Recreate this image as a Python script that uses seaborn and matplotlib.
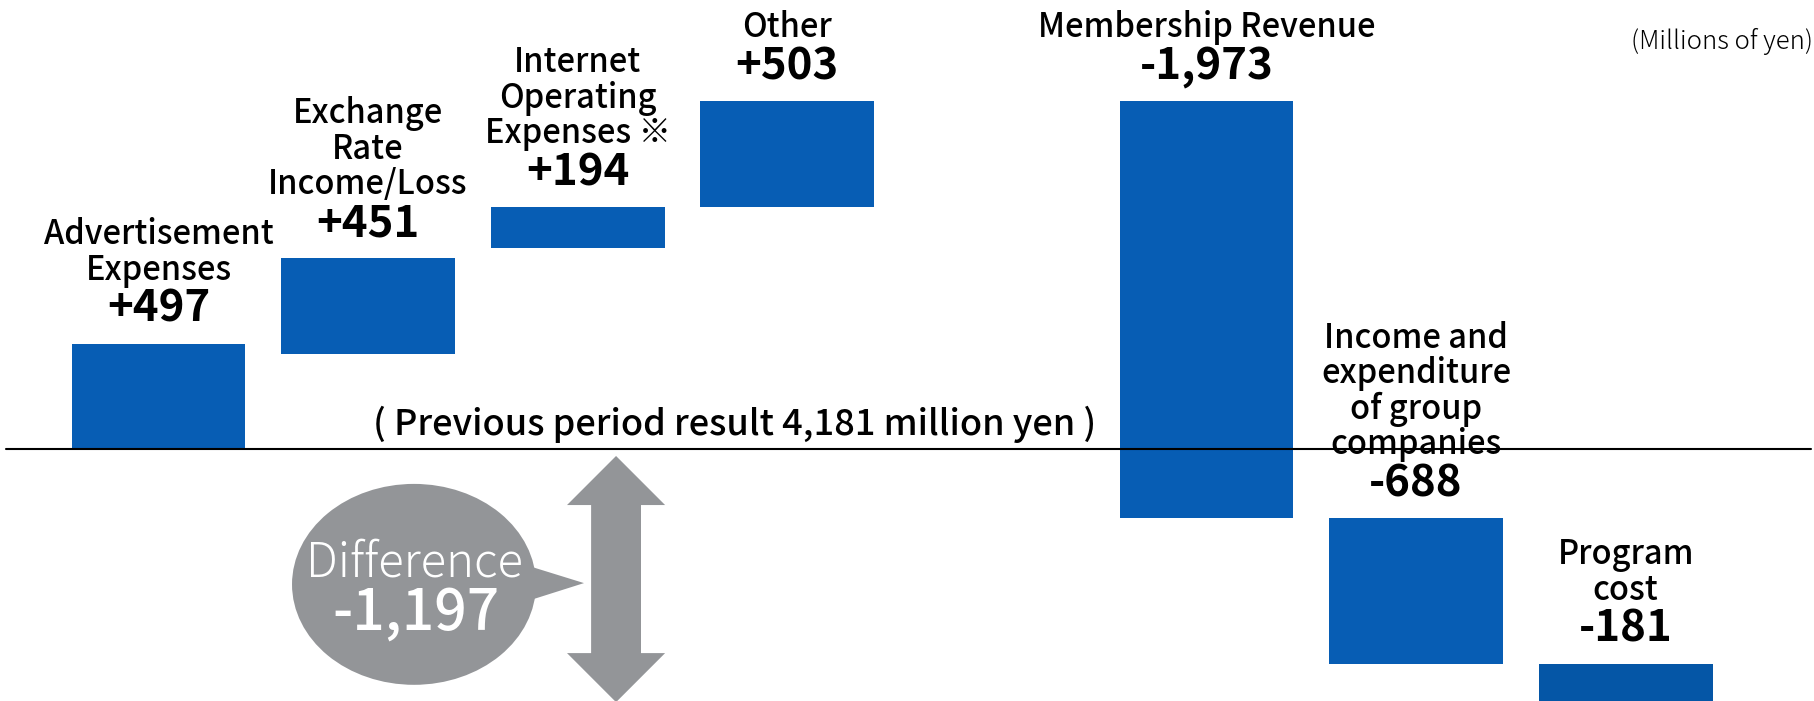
import numpy as np
import pandas as pd
import matplotlib
matplotlib.use("Agg")
import matplotlib.pyplot as plt
from matplotlib.patches import Ellipse, Polygon
import seaborn as sns

# ---- data ----
categories = ["Advertisement Expenses", "Exchange Rate Income/Loss",
              "Internet Operating Expenses ※", "Other", "Membership Revenue",
              "Income and expenditure of group companies", "Program cost"]
label_lines = [["Advertisement", "Expenses"],
               ["Exchange", "Rate", "Income/Loss"],
               ["Internet", "Operating", "Expenses ※"],
               ["Other"],
               ["Membership Revenue"],
               ["Income and", "expenditure", "of group", "companies"],
               ["Program", "cost"]]
deltas = [497, 451, 194, 503, -1973, -688, -181]
# bar bottoms as drawn in the source picture (waterfall steps)
bar_bottoms = [0, 450, 948, 1142, 1645, -328, -1016]
value_labels = ["+497", "+451", "+194", "+503", "-1,973", "-688", "-181"]
prev_result = 4181
unit_label = "(Millions of yen)"

# ---- layout ----
sns.set_theme(style="white")
plt.rcParams['font.family'] = ['Noto Sans CJK JP', 'DejaVu Sans']

BLUE = "#075DB4"
BLUE_LAST = "#0556A6"
GRAY = "#939598"

slots = [i if i < 4 else i + 1 for i in range(len(deltas))]
total = int(np.sum(deltas))

df = pd.DataFrame({"slot": slots, "delta": deltas, "start": bar_bottoms})

fig = plt.figure(figsize=(18.14, 7.01), dpi=100)
ax = fig.add_axes([0, 0, 1, 1])

sns.barplot(data=df, x="slot", y="delta", native_scale=True, orient="x",
            width=0.83, bottom=df["start"].values, color=BLUE,
            linewidth=0, ax=ax)
for i, p in enumerate(ax.patches):
    p.set_facecolor(BLUE_LAST if i == len(deltas) - 1 else BLUE)
    p.set_edgecolor("none")

# axis scaling: pixel mapping
px_per_slot = 209.6
x0_px = 158.5
ax.set_xlim((0 - x0_px) / px_per_slot, (1814 - x0_px) / px_per_slot)
py = 0.2115
ax.set_ylim(-(701 - 449) / py, 449 / py)
ax.axis("off")

# baseline
ax.axhline(0, xmin=6 / 1814, xmax=1811 / 1814, color="black", lw=1.5, zorder=10)

# labels above bars
for s, d, st, lines, vl in zip(slots, deltas, bar_bottoms, label_lines, value_labels):
    top = max(st, st + d)
    ax.annotate(vl, (s, top), xytext=(0, 22), textcoords="offset pixels",
                ha="center", va="baseline", fontsize=31.5, fontweight="bold",
                color="black", zorder=5)
    for k, line in enumerate(reversed(lines)):
        ax.annotate(line, (s, top), xytext=(0, 64 + 35.5 * k), textcoords="offset pixels",
                    ha="center", va="baseline", fontsize=23.5, fontweight="medium",
                    color="black", zorder=5)

# previous period text
ax.text(2.75, 66, f"( Previous period result {prev_result:,} million yen )",
        ha="center", va="baseline", fontsize=26, fontweight="medium", color="black")

# unit label
ax.text(0.9995, 1 - 49.3 / 701, unit_label, transform=ax.transAxes,
        ha="right", va="baseline", fontsize=18.5, fontweight="light", color="black")

# double arrow
ax_c = 2.183
sh, hh = 0.119, 0.234
head = 232
top_tip = -33
bot_tip = bar_bottoms[-1] + deltas[-1]
arrow = Polygon([(ax_c, top_tip), (ax_c + hh, top_tip - head), (ax_c + sh, top_tip - head),
                 (ax_c + sh, bot_tip + head), (ax_c + hh, bot_tip + head), (ax_c, bot_tip),
                 (ax_c - hh, bot_tip + head), (ax_c - sh, bot_tip + head),
                 (ax_c - sh, top_tip - head), (ax_c - hh, top_tip - head)],
                closed=True, facecolor=GRAY, edgecolor="none", zorder=3)
ax.add_patch(arrow)

# speech bubble
ell = Ellipse((1.219, -640), 1.164, 950, facecolor=GRAY, edgecolor="none", zorder=3)
ax.add_patch(ell)
tail = Polygon([(1.74, -545), (2.03, -634), (1.74, -725)], closed=True,
               facecolor=GRAY, edgecolor="none", zorder=3)
ax.add_patch(tail)
ax.text(1.219, -605, "Difference", ha="center", va="baseline", fontsize=34,
        fontweight="light", color="white", zorder=4)
ax.text(1.23, -856, f"{total:,}", ha="center", va="baseline", fontsize=41,
        fontweight="medium", color="white", zorder=4)

fig.savefig("out.png", dpi=100)
